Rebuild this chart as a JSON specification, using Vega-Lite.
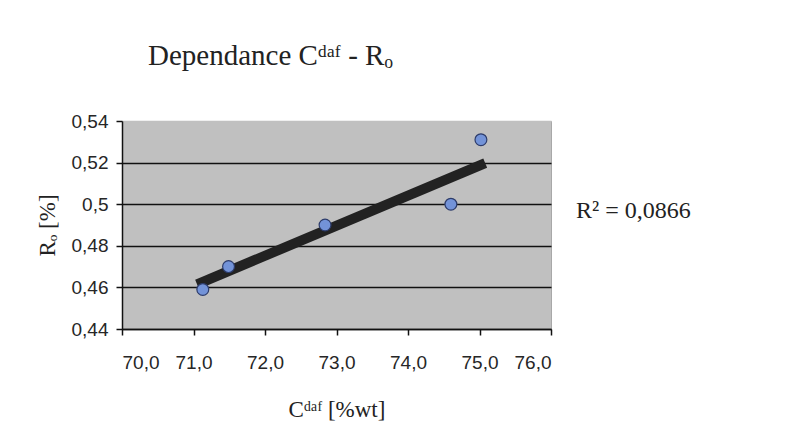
{
  "$schema": "https://vega.github.io/schema/vega-lite/v6.json",
  "width": 429,
  "height": 208,
  "autosize": {"type": "none"},
  "padding": {"left": 122, "top": 121, "right": 240, "bottom": 112},
  "background": "white",
  "title": {
    "text": "Dependance  Cᵈᵃᶠ - Rₒ",
    "anchor": "start",
    "frame": "group",
    "dx": 26,
    "offset": 41,
    "font": "Liberation Serif",
    "fontSize": 29,
    "fontWeight": "normal",
    "color": "#222222"
  },
  "config": {
    "view": {"fill": "#c0c0c0", "stroke": "#a8a8a8", "strokeWidth": 1},
    "axis": {
      "labelFont": "Liberation Sans",
      "labelFontSize": 19,
      "labelColor": "#262626",
      "titleFont": "Liberation Serif",
      "titleFontSize": 23,
      "titleFontWeight": "normal",
      "titleColor": "#222222",
      "domainColor": "#111111",
      "domainWidth": 1.5,
      "tickColor": "#111111",
      "tickWidth": 1.5,
      "tickSize": 6
    }
  },
  "datasets": {
    "points": [
      {"C": 71.13, "R": 0.459},
      {"C": 71.49, "R": 0.470},
      {"C": 72.84, "R": 0.490},
      {"C": 74.60, "R": 0.500},
      {"C": 75.02, "R": 0.531}
    ],
    "trend": [
      {"C": 71.05, "R": 0.4615},
      {"C": 75.08, "R": 0.5197}
    ],
    "label": [
      {"C": 76.35, "R": 0.4967, "text": "R²  = 0,0866"}
    ]
  },
  "layer": [
    {
      "data": {"name": "trend"},
      "mark": {"type": "line", "color": "#222222", "strokeWidth": 10, "strokeCap": "butt"},
      "encoding": {
        "x": {
          "field": "C",
          "type": "quantitative",
          "scale": {"domain": [70, 76], "nice": false, "zero": false},
          "axis": {
            "values": [70, 71, 72, 73, 74, 75, 76],
            "grid": false,
            "labelExpr": "replace(format(datum.value, '.1f'), '.', ',')",
            "labelPadding": 18,
            "title": "Cᵈᵃᶠ [%wt]",
            "titlePadding": 26
          }
        },
        "y": {
          "field": "R",
          "type": "quantitative",
          "scale": {"domain": [0.44, 0.54], "nice": false, "zero": false},
          "axis": {
            "values": [0.44, 0.46, 0.48, 0.5, 0.52, 0.54],
            "grid": true,
            "gridColor": {"condition": {"test": "datum.value > 0.535", "value": "#c0c0c0"}, "value": "#111111"},
            "gridWidth": 1.5,
            "labelExpr": "replace(format(datum.value, '.2~f'), '.', ',')",
            "labelPadding": 8,
            "title": "Rₒ [%]",
            "titlePadding": 12
          }
        }
      }
    },
    {
      "data": {"name": "points"},
      "mark": {"type": "circle", "size": 140, "fill": "#7393d8", "stroke": "#2d3c6b", "strokeWidth": 1.2, "opacity": 1},
      "encoding": {
        "x": {"field": "C", "type": "quantitative"},
        "y": {"field": "R", "type": "quantitative"}
      }
    },
    {
      "data": {"name": "label"},
      "mark": {"type": "text", "align": "left", "baseline": "middle", "font": "Liberation Serif", "fontSize": 24, "color": "#222222", "clip": false},
      "encoding": {
        "x": {"field": "C", "type": "quantitative"},
        "y": {"field": "R", "type": "quantitative"},
        "text": {"field": "text"}
      }
    }
  ]
}
